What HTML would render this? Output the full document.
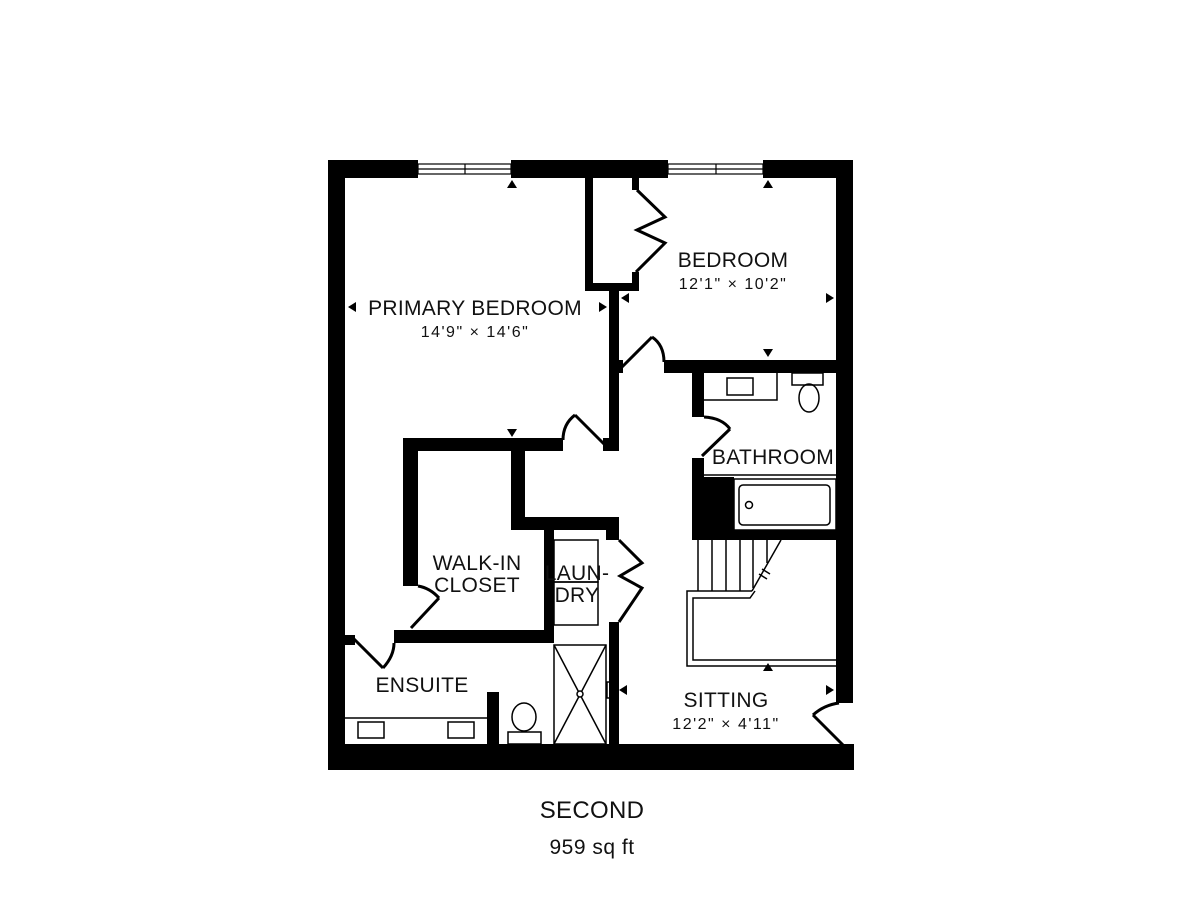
<!DOCTYPE html>
<html><head><meta charset="utf-8"><style>
html,body{margin:0;padding:0;background:#fff;}
svg{display:block;}
text{font-family:"Liberation Sans",sans-serif;fill:#111;}
</style></head><body>
<svg width="1200" height="900" viewBox="0 0 1200 900" xmlns="http://www.w3.org/2000/svg">
<g fill="#000">
<rect x="328" y="160" width="90" height="18"/>
<rect x="511" y="160" width="157" height="18"/>
<rect x="763" y="160" width="90" height="18"/>
<rect x="328" y="160" width="17" height="610"/>
<rect x="836" y="160" width="17" height="543"/>
<rect x="328" y="744" width="526" height="26"/>
<rect x="585" y="178" width="8" height="112"/>
<rect x="585" y="283" width="54" height="8"/>
<rect x="632" y="178" width="7" height="12"/>
<rect x="632" y="272" width="7" height="18"/>
<rect x="609" y="290" width="10" height="161"/>
<rect x="609" y="360" width="14" height="13"/>
<rect x="664" y="360" width="189" height="13"/>
<rect x="403" y="438" width="160" height="13"/>
<rect x="603" y="438" width="16" height="13"/>
<rect x="403" y="438" width="15" height="148"/>
<rect x="511" y="438" width="14" height="92"/>
<rect x="511" y="517" width="108" height="13"/>
<rect x="606" y="517" width="13" height="23"/>
<rect x="544" y="517" width="10" height="126"/>
<rect x="394" y="630" width="160" height="13"/>
<rect x="609" y="622" width="10" height="125"/>
<rect x="345" y="635" width="10" height="10"/>
<rect x="487" y="692" width="12" height="54"/>
<rect x="692" y="373" width="12" height="44"/>
<rect x="692" y="458" width="12" height="82"/>
<rect x="692" y="477" width="42" height="63"/>
<rect x="692" y="530" width="161" height="10"/>
<polygon points="512,180 507,188 517,188"/>
<polygon points="768,180 763,188 773,188"/>
<polygon points="348,307 356,302 356,312"/>
<polygon points="607,307 599,302 599,312"/>
<polygon points="512,437 507,429 517,429"/>
<polygon points="621,298 629,293 629,303"/>
<polygon points="834,298 826,293 826,303"/>
<polygon points="768,357 763,349 773,349"/>
<polygon points="768,663 763,671 773,671"/>
<polygon points="768,755 763,747 773,747"/>
<polygon points="619,690 627,685 627,695"/>
<polygon points="834,690 826,685 826,695"/>
</g>
<g fill="none" stroke="#000">
<g stroke-width="1.2"><rect x="418" y="164" width="93" height="10"/><line x1="418" y1="169" x2="511" y2="169"/><line x1="465" y1="164" x2="465" y2="174"/>
<rect x="668" y="164" width="95" height="10"/><line x1="668" y1="169" x2="763" y2="169"/><line x1="716" y1="164" x2="716" y2="174"/></g>
<polyline stroke-width="3" points="637,190 665,217 637,230 665,243 636,272"/>
<g stroke-width="3">
<line x1="622" y1="367" x2="652" y2="337"/><path d="M652,337 Q664,345 664,362"/>
<line x1="604" y1="444" x2="575" y2="415"/><path d="M575,415 Q563,424 563,440"/>
<line x1="702" y1="456" x2="730" y2="429"/><path d="M730,429 Q722,418 704,417"/>
<line x1="411" y1="628" x2="439" y2="598"/><path d="M439,598 Q430,588 418,586"/>
<line x1="354" y1="639" x2="383" y2="668"/><path d="M383,668 Q394,656 394,643"/>
<line x1="813" y1="715" x2="846" y2="748"/><path d="M813,715 Q824,705 839,703"/>
<polyline points="619,540 642,563 620,576 642,588 619,622"/>
</g>
<g stroke-width="1.5">
<polyline points="704,400 777,400 777,373"/>
<rect x="727" y="378" width="26" height="17"/>
<rect x="792" y="373" width="31" height="12"/>
<ellipse cx="809" cy="398" rx="10" ry="14"/>
<rect x="734" y="479" width="102" height="51"/>
<rect x="739" y="485" width="91" height="40" rx="4"/>
<circle cx="749" cy="505" r="3.5"/>
<line x1="704" y1="475" x2="836" y2="475"/>
<rect x="554" y="540" width="44" height="42"/><rect x="554" y="582" width="44" height="43"/>
<rect x="554" y="645" width="52" height="99"/>
<line x1="554" y1="645" x2="606" y2="744"/><line x1="606" y1="645" x2="554" y2="744"/>
<circle cx="580" cy="694" r="3" fill="#fff"/>
<rect x="607" y="682" width="4" height="16"/>
<line x1="345" y1="718" x2="487" y2="718"/>
<rect x="358" y="722" width="26" height="16"/><rect x="448" y="722" width="26" height="16"/>
<rect x="508" y="732" width="33" height="12"/>
<ellipse cx="524" cy="717" rx="12" ry="14"/>
<line x1="698" y1="540" x2="698" y2="591"/><line x1="712" y1="540" x2="712" y2="591"/>
<line x1="726" y1="540" x2="726" y2="591"/><line x1="740" y1="540" x2="740" y2="591"/>
<line x1="753" y1="540" x2="753" y2="588"/><line x1="767" y1="540" x2="767" y2="563"/>
<line x1="752" y1="591" x2="781" y2="540"/>
<line x1="759" y1="574" x2="767" y2="579"/><line x1="762" y1="569" x2="770" y2="574"/>
<polyline points="836,666 687,666 687,591 752,591"/>
<polyline points="836,660 693,660 693,598 750,598 755,591"/>
</g>
</g>
<g font-size="21" text-anchor="middle" letter-spacing="0.3">
<text x="475" y="315">PRIMARY BEDROOM</text>
<text x="733" y="267">BEDROOM</text>
<text x="773" y="464">BATHROOM</text>
<text x="477" y="570">WALK-IN</text>
<text x="477" y="592">CLOSET</text>
<text x="577" y="580">LAUN-</text>
<text x="577" y="602">DRY</text>
<text x="422" y="692">ENSUITE</text>
<text x="726" y="707">SITTING</text>
<text x="592" y="818" font-size="24">SECOND</text>
</g>
<g font-size="16" text-anchor="middle" letter-spacing="1.5">
<text x="475" y="337">14'9" × 14'6"</text>
<text x="733" y="289">12'1" × 10'2"</text>
<text x="726" y="729">12'2" × 4'11"</text>
<text x="592" y="854" font-size="21" letter-spacing="0.5">959 sq ft</text>
</g>
</svg>
</body></html>
